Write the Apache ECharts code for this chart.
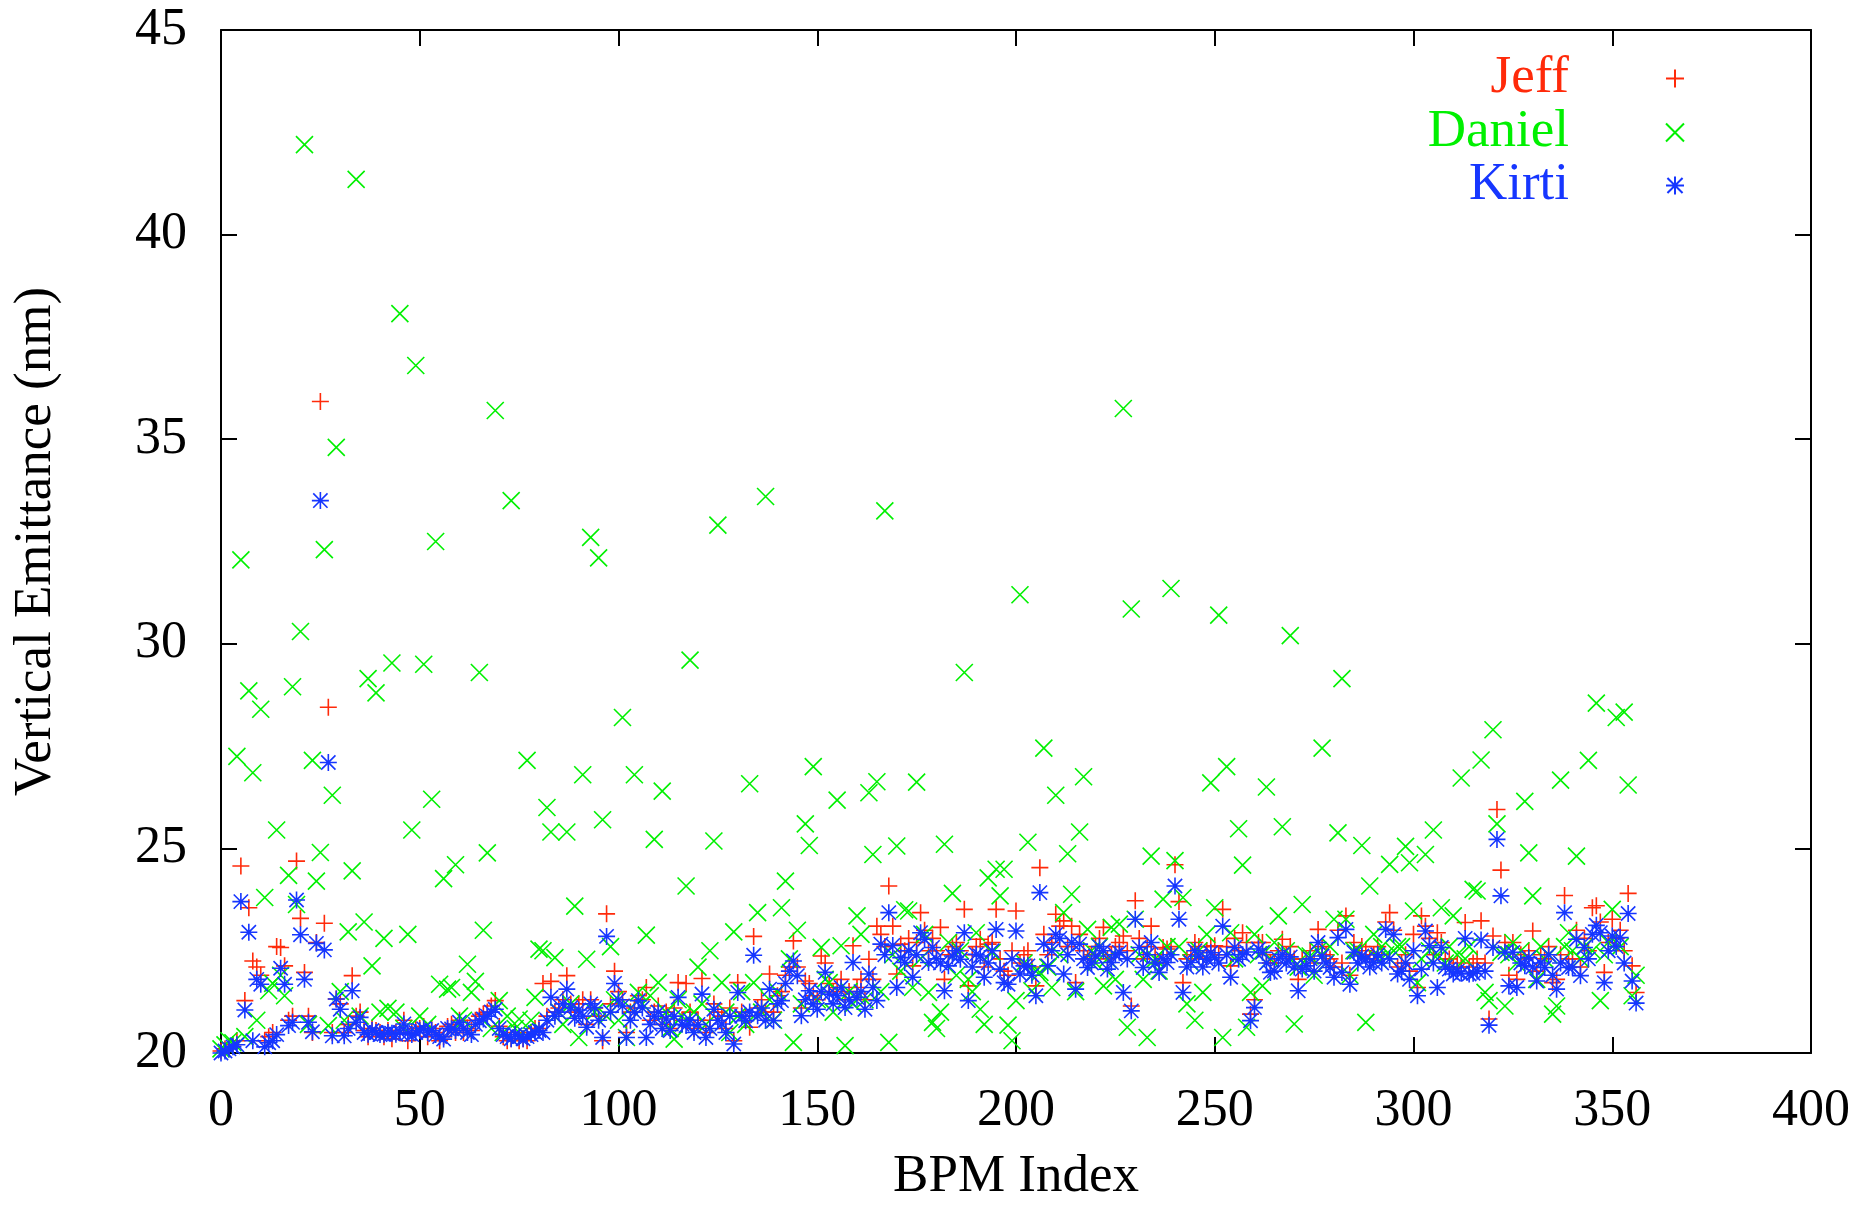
<!DOCTYPE html>
<html>
<head>
<meta charset="utf-8">
<script src="https://cdn.jsdelivr.net/npm/echarts@6/dist/echarts.min.js"></script>
<style>html,body{margin:0;padding:0;background:#fff;}#c{width:1860px;height:1209px;}</style>
</head>
<body>
<div id="c"></div>
<script>
// Vertical emittance per BPM index (index = position in array)
const kirti = [
20.0,20.05,20.1,20.15,20.2,23.7,21.05,22.95,20.3,21.8,
21.68,20.15,20.25,20.3,20.45,22.07,21.68,20.67,20.75,23.74,
22.89,21.8,20.75,20.52,22.68,33.5,22.52,27.1,20.42,21.32,
21.07,20.42,20.6,21.52,20.75,20.87,20.5,20.46,20.55,20.5,
20.45,20.46,20.5,20.48,20.46,20.5,20.71,20.48,20.45,20.5,
20.55,20.59,20.5,20.55,20.45,20.4,20.34,20.6,20.59,20.55,
20.75,20.6,20.5,20.45,20.7,20.79,20.83,20.9,21.0,21.07,
20.6,20.45,20.4,20.35,20.45,20.4,20.35,20.4,20.45,20.5,
20.55,20.5,20.8,21.36,20.9,21.0,21.2,21.56,21.11,20.85,
21.05,20.9,20.63,21.2,21.11,20.8,20.38,22.85,21.0,21.7,
21.3,21.15,20.38,20.8,21.0,21.28,21.1,20.38,20.7,20.9,
21.0,20.6,20.83,20.55,20.9,21.36,20.7,20.67,20.8,20.5,
20.7,21.44,20.38,20.6,21.07,20.8,20.71,20.5,20.9,20.22,
21.48,20.9,20.79,21.0,22.39,20.91,21.1,20.8,21.56,20.79,
21.2,21.28,21.7,22.0,22.25,21.89,20.91,21.3,21.52,21.2,
21.07,21.5,21.97,21.44,21.2,21.4,21.6,21.11,21.3,22.21,
21.36,21.5,21.07,21.93,21.6,21.28,22.66,22.4,23.43,22.63,
21.6,22.33,22.21,22.5,21.85,22.4,22.94,22.78,22.21,22.58,
22.3,22.2,21.52,22.13,22.37,22.5,22.29,22.94,21.28,22.1,
22.41,22.37,21.85,22.2,22.5,23.02,22.05,21.72,21.68,22.3,
22.98,21.93,22.13,22.13,21.9,21.4,23.92,22.66,22.13,22.5,
22.9,22.8,21.93,22.4,22.7,21.56,22.66,22.3,22.09,22.2,
22.37,22.6,22.5,22.05,22.21,22.4,22.46,21.48,22.3,21.03,
23.27,22.58,22.09,22.4,22.7,22.2,21.97,22.3,22.21,22.4,
24.08,23.27,21.48,22.1,22.21,22.5,22.37,22.1,22.29,22.45,
22.33,22.2,23.1,22.4,21.85,22.58,22.29,22.4,22.47,20.79,
21.11,22.54,22.46,22.2,21.97,22.0,22.3,22.41,22.2,22.35,
22.1,21.52,22.05,22.13,22.3,22.0,22.7,22.37,22.2,22.09,
21.85,22.82,21.97,23.02,21.68,22.46,22.2,22.37,22.3,22.1,
22.21,22.4,22.2,23.02,22.3,22.9,21.93,22.0,22.2,21.8,
22.5,21.4,22.05,22.98,22.62,22.2,21.6,22.58,22.1,22.05,
21.93,22.0,21.95,22.8,21.93,21.95,22.0,22.76,22.0,20.68,
22.58,25.22,23.84,22.46,21.64,22.46,21.6,22.2,22.13,22.33,
22.1,21.76,22.2,22.09,22.4,21.9,21.56,22.2,23.43,22.09,
22.1,22.78,21.89,22.58,22.3,22.9,23.12,22.94,21.72,22.5,
22.86,22.6,22.82,22.2,23.41,21.76,21.22
];
const jeff = [
20.05,20.1,20.15,20.2,20.3,24.57,21.28,23.55,22.25,22.1,
21.9,20.3,20.4,20.5,22.6,22.58,22.13,20.8,20.9,24.69,
23.29,21.97,20.9,20.5,22.7,35.92,23.17,28.45,20.5,21.32,
21.2,20.5,20.7,21.89,20.9,21.0,20.55,20.4,20.6,20.55,
20.5,20.4,20.55,20.35,20.5,20.55,20.8,20.3,20.5,20.6,
20.6,20.65,20.4,20.6,20.5,20.3,20.4,20.65,20.7,20.5,
20.8,20.5,20.6,20.55,20.8,20.9,20.95,21.0,21.15,21.28,
20.65,20.4,20.3,20.35,20.5,20.3,20.35,20.3,20.5,20.6,
20.6,21.7,20.9,21.75,21.0,21.1,21.3,21.89,21.2,21.0,
21.2,21.3,20.7,21.3,21.1,20.9,20.3,23.4,21.2,22.0,
21.5,21.3,20.5,21.0,21.1,21.4,21.3,21.6,20.8,21.0,
21.15,20.7,21.0,20.6,21.1,21.72,20.8,21.7,21.0,20.6,
20.8,21.82,20.5,20.8,21.2,21.0,20.9,20.6,21.1,20.3,
21.72,21.0,20.9,20.63,22.85,21.1,21.3,21.0,21.93,21.0,
21.4,21.5,21.9,22.1,22.74,22.1,21.1,21.76,21.7,21.4,
21.3,22.37,22.2,21.7,21.5,21.6,21.8,21.3,21.5,22.62,
21.6,21.8,21.3,22.29,21.8,23.1,22.9,22.6,24.08,23.1,
21.93,22.66,22.5,22.8,22.13,22.7,23.43,23.0,22.5,22.8,
22.5,23.07,21.8,22.4,22.6,22.7,22.5,23.51,21.64,22.4,
22.6,22.78,22.1,22.66,22.7,23.51,22.3,22.0,21.9,22.5,
23.47,22.2,22.4,22.5,22.1,21.64,24.53,22.9,22.4,22.7,
23.39,23.1,23.23,22.6,23.1,21.72,22.9,22.5,22.3,22.4,
22.6,22.8,23.07,22.3,22.4,22.6,22.7,22.86,22.5,21.15,
23.72,22.8,22.3,22.6,23.1,22.4,22.2,22.58,22.54,22.6,
24.6,23.7,21.72,22.3,22.4,22.7,22.6,22.3,22.5,22.6,
22.62,22.4,23.51,22.6,22.13,22.8,22.5,22.94,22.7,20.95,
21.3,22.7,22.7,22.4,22.2,22.2,22.5,22.78,22.4,22.6,
22.3,21.8,22.3,22.3,22.5,22.2,23.02,22.6,22.4,22.3,
22.1,23.0,22.2,23.35,21.9,22.7,22.4,22.6,22.5,22.3,
22.4,22.6,22.4,23.2,23.43,23.0,22.1,22.2,22.4,22.0,
22.9,21.6,23.35,23.1,22.8,22.4,22.94,22.7,22.29,22.3,
22.1,22.2,22.1,23.19,22.1,22.2,22.3,23.23,22.2,20.83,
22.86,25.95,24.47,22.7,21.9,22.7,21.8,22.4,22.3,22.5,
22.98,22.0,22.4,22.3,22.6,21.72,21.8,22.4,23.85,22.3,
22.3,23.0,22.1,22.8,22.5,23.55,23.6,23.2,21.97,22.7,
23.27,22.8,23.0,22.5,23.9,22.13,21.48
];
const daniel = [
20.1,20.2,20.3,20.25,27.25,32.05,20.4,28.85,26.85,20.8,
28.4,23.8,21.52,21.7,25.45,21.9,21.4,24.34,28.95,23.63,
30.3,42.2,20.7,27.15,24.2,24.9,32.3,20.67,26.3,34.8,
21.5,20.8,22.96,24.45,41.35,20.9,23.2,29.15,22.13,28.8,
21.0,22.8,21.09,29.53,21.0,38.07,20.6,22.9,25.45,36.8,
20.9,29.5,20.7,26.2,32.5,21.68,24.26,21.56,21.6,24.6,
20.9,20.8,22.17,21.48,21.75,29.3,23.0,24.89,20.6,35.7,
21.28,20.5,20.9,33.5,20.6,20.83,20.5,27.15,20.8,21.36,
22.54,22.5,26.0,25.4,22.33,21.0,20.7,25.4,21.2,23.59,
20.38,26.8,22.29,32.6,21.0,32.1,25.7,20.9,22.6,21.3,
20.8,28.2,20.38,21.1,26.8,21.48,21.2,22.88,21.4,25.22,
21.72,26.4,21.0,20.6,20.34,21.3,20.9,24.08,29.6,21.0,
22.1,21.2,20.7,22.5,25.18,32.9,21.72,21.0,20.5,22.96,
20.9,21.5,20.7,26.58,21.72,23.43,21.0,33.6,21.3,20.8,
21.5,23.55,24.2,22.3,20.26,23.0,21.2,25.6,25.07,27.0,
21.3,22.58,21.8,21.72,21.0,26.18,22.62,20.18,21.5,21.2,
23.35,22.9,21.3,26.36,24.85,26.63,21.5,33.25,20.26,22.4,
25.06,22.0,23.5,23.47,21.6,26.62,22.3,22.9,21.48,20.75,
20.6,21.0,25.1,22.7,23.9,21.9,22.5,29.3,21.8,21.5,
22.94,21.07,20.7,24.28,22.46,24.49,23.84,24.49,20.68,20.3,
21.28,31.2,22.2,25.15,21.52,22.0,21.97,27.45,22.1,21.6,
26.3,22.4,23.43,24.87,23.88,21.5,25.4,26.75,23.02,22.5,
22.2,22.6,21.64,22.3,23.07,21.8,23.15,35.75,20.63,30.85,
23.27,22.4,21.8,20.38,24.81,22.3,22.0,23.76,22.6,31.35,
24.7,22.6,23.8,21.2,22.2,20.8,22.5,21.48,22.9,26.6,
23.55,30.7,20.38,27.0,22.94,22.3,25.48,24.59,20.63,21.48,
22.9,22.4,21.64,26.5,22.3,22.7,23.35,25.53,22.5,30.2,
20.71,22.1,23.63,22.4,22.37,21.9,22.5,27.45,22.2,22.6,
23.27,25.38,29.15,23.27,21.9,22.5,22.5,25.07,20.75,24.08,
22.9,22.3,22.6,22.4,24.61,22.5,22.6,22.6,25.05,24.65,
23.47,21.72,22.3,24.85,22.5,25.45,22.4,23.55,22.2,22.6,
23.35,22.4,26.72,22.3,22.6,24.0,23.96,27.16,21.48,21.28,
27.9,25.6,22.46,21.15,22.4,22.7,22.2,22.5,26.15,24.89,
23.84,21.8,22.6,22.3,22.4,20.95,21.15,26.67,22.6,22.94,
22.5,24.81,22.3,22.6,27.15,22.5,28.55,21.28,22.4,22.7,
23.51,28.2,22.6,28.33,26.55,21.4,21.9
];
const seriesNames = ['Jeff', 'Daniel', 'Kirti'];
const xTicks = [0, 50, 100, 150, 200, 250, 300, 350, 400];
const yTicks = [20, 25, 30, 35, 40, 45];

const COLORS = {Jeff: '#ff2a0a', Daniel: '#00f000', Kirti: '#1636ff'};
const SYM = {
  Jeff: 'path://M0,5L10,5M5,0L5,10',
  Daniel: 'path://M0,0L10,10M0,10L10,0',
  Kirti: 'path://M0,5L10,5M5,0L5,10M0.8,0.8L9.2,9.2M0.8,9.2L9.2,0.8'
};
const FONT = "'Liberation Serif','Times New Roman',serif";
const toPairs = arr => arr.map((v, i) => [i, v]);
const dataMap = {Jeff: jeff, Daniel: daniel, Kirti: kirti};

const chart = echarts.init(document.getElementById('c'), null, {renderer: 'canvas'});
const axisCommon = {
  axisLine: {show: true, onZero: false, lineStyle: {color: '#000', width: 2}},
  axisTick: {show: true, inside: true, length: 16, lineStyle: {color: '#000', width: 2}},
  splitLine: {show: false}
};
const legendTops = [47, 101, 154];
const option = {
  backgroundColor: '#fff',
  animation: false,
  grid: {left: 221, top: 30, right: 49, bottom: 155, containLabel: false},
  xAxis: [
    Object.assign({}, axisCommon, {
      type: 'value', min: xTicks[0], max: xTicks[xTicks.length - 1], interval: 50, position: 'bottom',
      name: 'BPM Index', nameLocation: 'middle', nameGap: 98,
      nameTextStyle: {fontFamily: FONT, fontSize: 53, color: '#000'},
      axisLabel: {fontFamily: FONT, fontSize: 52, color: '#000', margin: 32}
    }),
    Object.assign({}, axisCommon, {
      type: 'value', min: xTicks[0], max: xTicks[xTicks.length - 1], interval: 50, position: 'top',
      axisLabel: {show: false}
    })
  ],
  yAxis: [
    Object.assign({}, axisCommon, {
      type: 'value', min: yTicks[0], max: yTicks[yTicks.length - 1], interval: 5, position: 'left',
      name: 'Vertical Emittance (nm)', nameLocation: 'middle', nameGap: 158, nameRotate: 90,
      nameTextStyle: {fontFamily: FONT, fontSize: 53, color: '#000'},
      axisLabel: {fontFamily: FONT, fontSize: 52, color: '#000', margin: 34}
    }),
    Object.assign({}, axisCommon, {
      type: 'value', min: yTicks[0], max: yTicks[yTicks.length - 1], interval: 5, position: 'right',
      axisLabel: {show: false}
    })
  ],
  legend: seriesNames.map((n, k) => ({
    data: [{name: n}],
    orient: 'vertical', align: 'right',
    right: 170, top: legendTops[k],
    itemWidth: 18, itemHeight: 18,
    selectedMode: false,
    textStyle: {fontFamily: FONT, fontSize: 53, color: COLORS[n], padding: [0, 92, 0, 0]}
  })),
  series: seriesNames.map(n => ({
    name: n, type: 'scatter',
    data: toPairs(dataMap[n]),
    symbol: SYM[n], symbolSize: 17,
    itemStyle: {color: 'rgba(0,0,0,0)', borderColor: COLORS[n], borderWidth: 1.6, opacity: 1},
    emphasis: {disabled: true}
  }))
};
chart.setOption(option);
</script>
</body>
</html>
